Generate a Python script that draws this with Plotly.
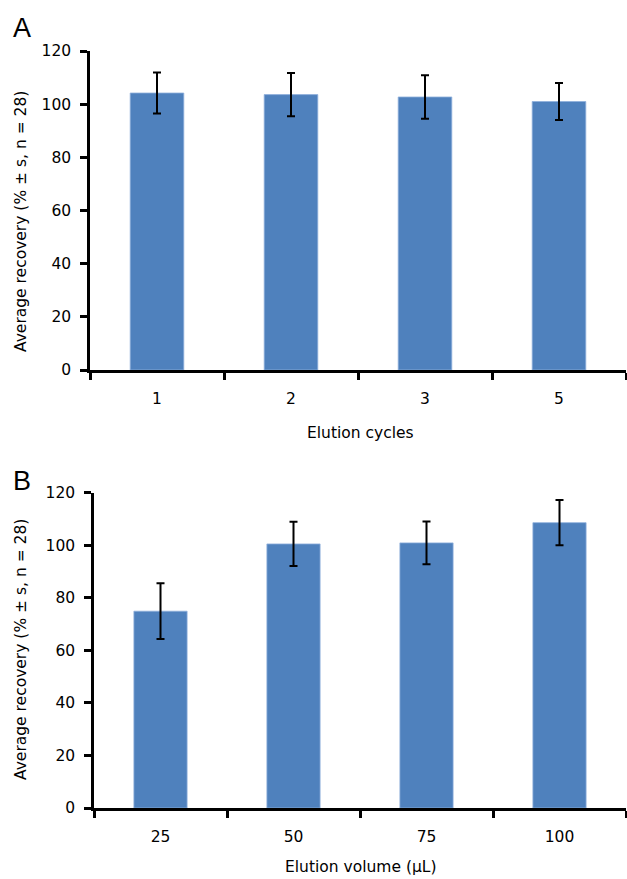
import plotly.graph_objects as go

# Panel A data
cycles = ["1", "2", "3", "5"]
rec_a = [104.2, 103.6, 102.7, 101.0]
err_a = [7.7, 8.1, 8.2, 7.0]

# Panel B data
volumes = ["25", "50", "75", "100"]
rec_b = [74.9, 100.5, 100.9, 108.6]
err_b = [10.6, 8.4, 8.1, 8.6]

y_ticks = [0, 20, 40, 60, 80, 100, 120]

W, H = 627, 879
BAR = "#4F81BD"
FONT = "DejaVu Sans"
FS = 15.5

fig = go.Figure()
for vals, errs, cats, xa, ya in [(rec_a, err_a, cycles, "x", "y"), (rec_b, err_b, volumes, "x2", "y2")]:
    fig.add_trace(go.Bar(
        x=cats, y=vals, xaxis=xa, yaxis=ya, width=0.4,
        marker=dict(color=BAR, line=dict(color="#8fb0dc", width=0.8)),
        error_y=dict(type="data", array=errs, visible=True, color="black", thickness=2, width=4),
        showlegend=False,
    ))

common_x = dict(type="category", range=[-0.5, 3.5], showline=True, linecolor="black", linewidth=2.5,
                ticks="outside", ticklen=7, tickwidth=2.5, tickcolor="black", tickson="boundaries",
                showgrid=False, zeroline=False, automargin=False, ticklabelstandoff=13,
                tickfont=dict(family=FONT, size=FS, color="black"))
common_y = dict(range=[0, 120], tickvals=y_ticks, showline=True, linecolor="black", linewidth=2.5,
                ticks="outside", ticklen=7, tickwidth=2.5, tickcolor="black", showgrid=False, zeroline=False,
                automargin=False, ticklabelstandoff=6, tickfont=dict(family=FONT, size=FS, color="black"))

fig.update_layout(
    width=W, height=H, margin=dict(l=0, r=0, t=0, b=0, autoexpand=False),
    plot_bgcolor="white", paper_bgcolor="white", bargap=0.6,
    xaxis=dict(domain=[90 / W, 626 / W], anchor="y", **common_x),
    yaxis=dict(domain=[1 - 370 / H, 1 - 51 / H], anchor="x", **common_y),
    xaxis2=dict(domain=[94 / W, 626 / W], anchor="y2", **common_x),
    yaxis2=dict(domain=[1 - 808 / H, 1 - 492.7 / H], anchor="x2", **common_y),
)

ytitle = "Average recovery (% ± s, n = 28)"
for yc in [1 - 222 / H, 1 - 650 / H]:
    fig.add_annotation(text=ytitle, xref="paper", yref="paper", x=21 / W, y=yc, textangle=-90,
                       showarrow=False, font=dict(family=FONT, size=FS, color="black"),
                       xanchor="center", yanchor="middle")
for txt, yc in [("Elution cycles", 433), ("Elution volume (µL)", 867)]:
    fig.add_annotation(text=txt, xref="paper", yref="paper", x=360 / W, y=1 - yc / H,
                       showarrow=False, font=dict(family=FONT, size=FS, color="black"),
                       xanchor="center", yanchor="middle")
for lab, yc in [("A", 1 - 28 / H), ("B", 1 - 481 / H)]:
    fig.add_annotation(text=lab, xref="paper", yref="paper", x=22 / W, y=yc, showarrow=False,
                       font=dict(family="Liberation Sans", size=27, color="black"),
                       xanchor="center", yanchor="middle")

fig.write_html("out.html", config={"displayModeBar": False},
               post_script="document.body.style.margin='0';")
